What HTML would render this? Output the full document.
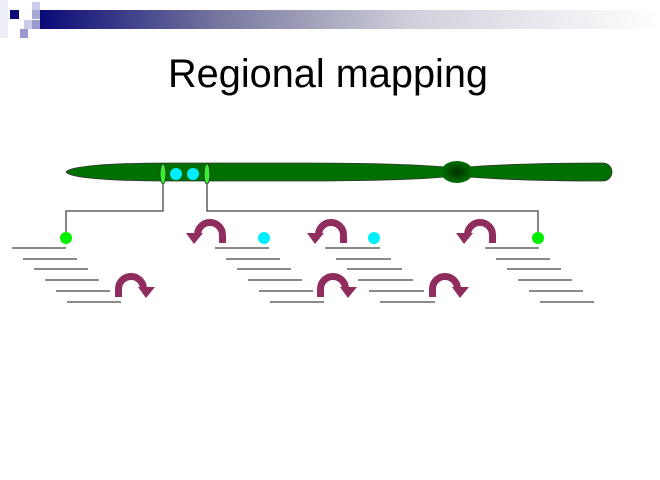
<!DOCTYPE html>
<html><head><style>html,body{margin:0;padding:0;background:#fff;}svg{display:block}</style></head>
<body>
<svg width="660" height="480" viewBox="0 0 660 480" xmlns="http://www.w3.org/2000/svg">
<defs>
<linearGradient id="bar" x1="0" x2="1" y1="0" y2="0">
<stop offset="0" stop-color="#0a0a78"/><stop offset="0.3" stop-color="#7a7aa0"/><stop offset="0.6" stop-color="#d0d0dc"/><stop offset="1" stop-color="#ffffff"/>
</linearGradient>
<radialGradient id="cen" cx="0.5" cy="0.5" r="0.5"><stop offset="0" stop-color="#003000"/><stop offset="1" stop-color="#007000"/></radialGradient>
</defs>
<rect x="0" y="0" width="8" height="38" fill="#eeeef6"/>
<rect x="40" y="10" width="620" height="19" fill="url(#bar)"/>
<rect x="10" y="10" width="9" height="9" fill="#0a0a78"/>
<rect x="32" y="2" width="8" height="8" fill="#ccccea"/>
<rect x="32" y="10" width="8" height="9" fill="#a8a8d4"/>
<rect x="24" y="20" width="8" height="9" fill="#ccccea"/>
<rect x="32" y="20" width="8" height="9" fill="#9a9ad0"/>
<rect x="20" y="29" width="8" height="9" fill="#9a9ad0"/>
<text x="328" y="87" text-anchor="middle" font-family="Liberation Sans, sans-serif" font-size="40" textLength="320" lengthAdjust="spacingAndGlyphs">Regional mapping</text>
<!-- chromosome -->
<path d="M66,172 C70,166 110,163 170,163 L300,163 Q400,163 445,167 L445,177 Q400,181 300,181 L170,181 C110,181 70,178 66,172 Z" fill="#007000" stroke="#333" stroke-width="0.8"/>
<path d="M468,167 Q520,163 603,163 A9,9 0 0 1 603,181 Q520,181 468,177 Z" fill="#007000" stroke="#333" stroke-width="0.8"/>
<ellipse cx="457" cy="172" rx="16" ry="11" fill="url(#cen)"/>
<ellipse cx="163" cy="174" rx="3" ry="10" fill="#33ee33" stroke="#222" stroke-width="0.8"/>
<ellipse cx="207" cy="174" rx="3" ry="10" fill="#33ee33" stroke="#222" stroke-width="0.8"/>
<circle cx="176" cy="174" r="6" fill="#00eeff"/>
<circle cx="193" cy="174" r="6" fill="#00eeff"/>
<!-- connectors -->
<g fill="none" stroke="#444" stroke-width="1.3">
<path d="M163,184 V211 H66 V238"/>
<path d="M207,184 V211 H538 V238"/>
</g>
<circle cx="66" cy="238" r="6" fill="#00ee00"/>
<circle cx="538" cy="238" r="6" fill="#00ee00"/>
<circle cx="264" cy="238" r="6" fill="#00eeff"/>
<circle cx="374" cy="238" r="6" fill="#00eeff"/>
<!-- staircases -->
<g stroke="#444" stroke-width="1.3">
<line x1="12" y1="248" x2="66" y2="248"/><line x1="23" y1="259" x2="77" y2="259"/><line x1="34" y1="269" x2="88" y2="269"/><line x1="45" y1="280" x2="99" y2="280"/><line x1="56" y1="291" x2="110" y2="291"/><line x1="67" y1="302" x2="121" y2="302"/>
<line x1="215" y1="248" x2="269" y2="248"/><line x1="226" y1="259" x2="280" y2="259"/><line x1="237" y1="269" x2="291" y2="269"/><line x1="248" y1="280" x2="302" y2="280"/><line x1="259" y1="291" x2="313" y2="291"/><line x1="270" y1="302" x2="324" y2="302"/>
<line x1="325" y1="248" x2="380" y2="248"/><line x1="336" y1="259" x2="391" y2="259"/><line x1="347" y1="269" x2="402" y2="269"/><line x1="358" y1="280" x2="413" y2="280"/><line x1="369" y1="291" x2="424" y2="291"/><line x1="380" y1="302" x2="435" y2="302"/>
<line x1="485" y1="248" x2="539" y2="248"/><line x1="496" y1="259" x2="550" y2="259"/><line x1="507" y1="269" x2="561" y2="269"/><line x1="518" y1="280" x2="572" y2="280"/><line x1="529" y1="291" x2="583" y2="291"/><line x1="540" y1="302" x2="594" y2="302"/>
</g>
<!-- arrows -->
<g id="ccw" fill="#8e2d5e">
<path d="M210,235 m12.5,8 v-8 a12.5,12.5 0 0 0 -25,0 v-1" fill="none" stroke="#8e2d5e" stroke-width="7"/>
<polygon points="186,233 203,233 194,244"/>
</g>
<use href="#ccw" transform="translate(121,0)"/>
<use href="#ccw" transform="translate(270,0)"/>
<g id="cw" fill="#8e2d5e">
<path d="M131,289 m-12.5,8 v-8 a12.5,12.5 0 0 1 25,0 v-1" fill="none" stroke="#8e2d5e" stroke-width="7"/>
<polygon points="138,287 155,287 146,298"/>
</g>
<use href="#cw" transform="translate(202,0)"/>
<use href="#cw" transform="translate(314,0)"/>
</svg>
</body></html>
